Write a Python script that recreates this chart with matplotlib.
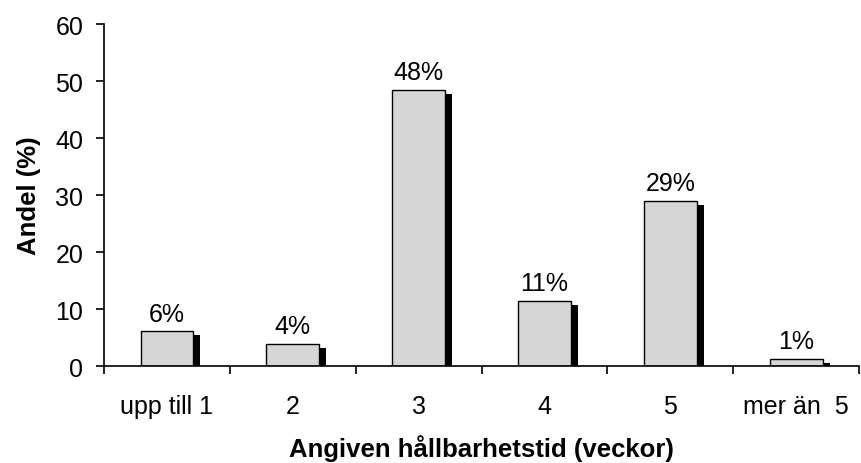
import numpy as np
import matplotlib.pyplot as plt

plt.rcParams['font.family'] = ['Liberation Sans', 'DejaVu Sans']

kategorier = ["upp till 1", "2", "3", "4", "5", "mer än  5"]
andel = [6.1, 3.9, 48.5, 11.4, 29.0, 1.3]
etiketter = ["6%", "4%", "48%", "11%", "29%", "1%"]

fig = plt.figure(figsize=(8.61, 4.64), dpi=100)
ax = fig.add_axes([0.1208, 0.209, 0.877, 0.737])

x = np.arange(len(kategorier))
bredd = 0.42

# skugga bakom staplarna
ax.bar(x + 0.055, np.array(andel) - 0.7, width=bredd, color="black",
       align="center", zorder=1)
ax.bar(x, andel, width=bredd, color="#d6d6d6", edgecolor="black",
       linewidth=1.0, zorder=2)

for xi, v, t in zip(x, andel, etiketter):
    ax.annotate(t, (xi, v), xytext=(0, 4), textcoords="offset points",
                ha="center", va="bottom", fontsize=18)

ax.set_xlim(-0.5, 5.5)
ax.set_ylim(0, 60)
ax.set_yticks(range(0, 61, 10))
ax.set_xticks(x)
ax.set_xticklabels(kategorier, fontsize=18)
ax.tick_params(axis="x", length=0, pad=20)
ax.set_xticks(np.arange(-0.5, 6, 1), minor=True)
ax.tick_params(axis="x", which="minor", length=6, width=1.2, direction="out")
ax.tick_params(axis="y", labelsize=18, length=6, width=1.2, pad=9)

for s in ["top", "right"]:
    ax.spines[s].set_visible(False)
for s in ["left", "bottom"]:
    ax.spines[s].set_linewidth(1.2)

ax.set_ylabel("Andel (%)", fontsize=18.5, fontweight="bold")
ax.yaxis.set_label_coords(-0.084, 0.5)
ax.set_xlabel("Angiven hållbarhetstid (veckor)", fontsize=18.5,
              fontweight="bold")
ax.xaxis.set_label_coords(0.5, -0.2)

fig.savefig("out.png", dpi=100)
